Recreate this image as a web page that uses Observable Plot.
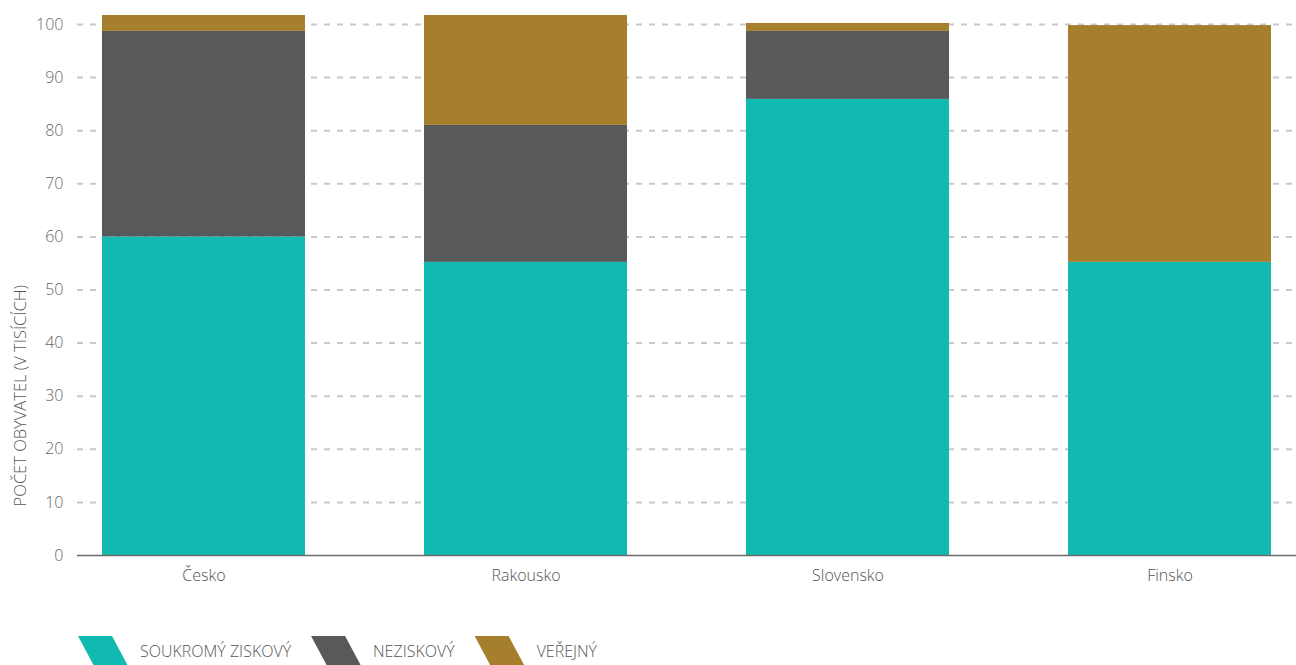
<!DOCTYPE html>
<html>
<head>
<meta charset="utf-8">
<script src="https://cdn.jsdelivr.net/npm/d3@7"></script>
<script src="https://cdn.jsdelivr.net/npm/@observablehq/plot@0.6"></script>
<style>
  html, body { margin: 0; padding: 0; background: #fff; }
  body { width: 1296px; height: 665px; overflow: hidden; font-family: "Open Sans", sans-serif; font-weight: 300; }
  #legend { position: absolute; left: 78px; top: 636px; display: flex; align-items: center; height: 30px; }
  .item { display: flex; align-items: center; margin-right: 20px; }
  .sw { width: 50px; height: 30px; clip-path: polygon(0 0, 34px 0, 50px 100%, 16px 100%); margin-right: 12px; }
  .lab { font-size: 16px; color: #555; letter-spacing: 0; }
</style>
</head>
<body>
<div id="chart"></div>
<div id="legend"></div>
<script>
const countries = ["Česko", "Rakousko", "Slovensko", "Finsko"];
const sectors = ["SOUKROMÝ ZISKOVÝ", "NEZISKOVÝ", "VEŘEJNÝ"];
const colors = ["#11bab1", "#58595b", "#a67f2d"];
const soukromy = [60.0, 55.2, 85.9, 55.2];
const neziskovy = [38.7, 25.8, 12.8, 0];
const verejny = [3.0, 20.7, 1.5, 44.6];
const yTicks = [0, 10, 20, 30, 40, 50, 60, 70, 80, 90, 100];
const yLabel = "POČET OBYVATEL (V TISÍCÍCH)";

const series = [soukromy, neziskovy, verejny];
const rows = [];
sectors.forEach((s, i) => countries.forEach((c, j) => rows.push({country: c, sector: s, value: series[i][j]})));

const chart = Plot.plot({
  width: 1296,
  height: 600,
  marginLeft: 77,
  marginRight: 0,
  marginTop: 15,
  marginBottom: 45,
  style: {fontFamily: "'Open Sans', sans-serif", fontWeight: 300, fontSize: "16px", color: "#666"},
  x: {domain: countries, paddingInner: 0.3696, paddingOuter: 0.0776, round: false, label: null},
  y: {domain: [0, 101.7], label: null},
  color: {domain: sectors, range: colors},
  marks: [
    Plot.ruleY(yTicks.filter(d => d > 0), {stroke: "#c8c8c8", strokeWidth: 2, strokeDasharray: "6,7"}),
    Plot.barY(rows, {x: "country", y: "value", fill: "sector"}),
    Plot.ruleY([0], {stroke: "#6b6b6b", strokeWidth: 1.5}),
    Plot.axisY({ticks: yTicks, tickSize: 0, tickPadding: 14, label: null, fill: "#666", fontSize: 16}),
    Plot.axisX({tickSize: 0, tickPadding: 14, label: null, fill: "#555", fontSize: 16}),
    Plot.text([{v: 30.1, t: yLabel}], {y: "v", text: "t", frameAnchor: "left", textAnchor: "middle", dx: -57, rotate: -90, fill: "#555", fontSize: 16.5, fontWeight: 300})
  ]
});
document.getElementById("chart").appendChild(chart);

const legend = document.getElementById("legend");
sectors.forEach((s, i) => {
  const item = document.createElement("div");
  item.className = "item";
  const sw = document.createElement("div");
  sw.className = "sw";
  sw.style.background = colors[i];
  const lab = document.createElement("span");
  lab.className = "lab";
  lab.textContent = s;
  item.appendChild(sw);
  item.appendChild(lab);
  legend.appendChild(item);
});
</script>
</body>
</html>
